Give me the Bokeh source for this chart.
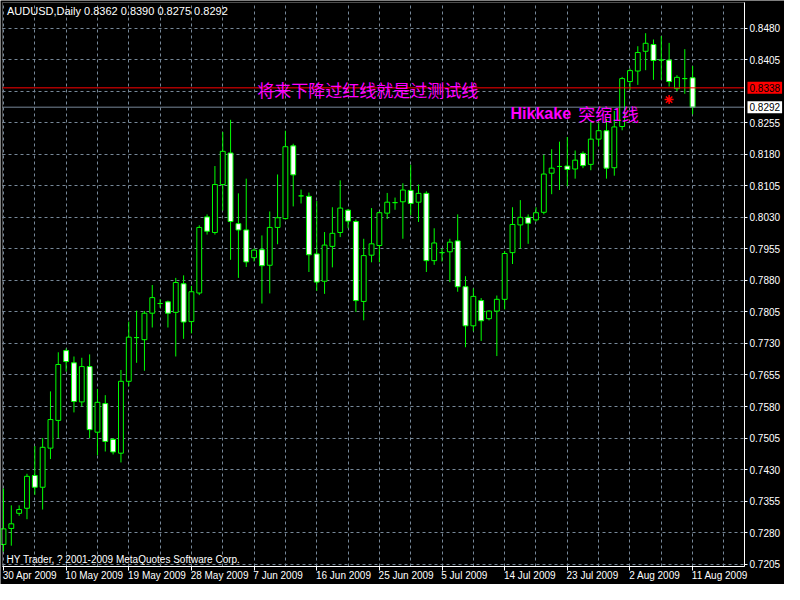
from bokeh.plotting import figure
from bokeh.models import FixedTicker, PrintfTickFormatter, Label, CustomJSTickFormatter, BoxAnnotation
from bokeh.embed import file_html
from bokeh.resources import INLINE

# ---------------- data ----------------
opens = [0.7252, 0.7290, 0.7326, 0.7338, 0.7416, 0.7388, 0.7481, 0.7547, 0.7713, 0.7684,
         0.7591, 0.7675, 0.7519, 0.7587, 0.7502, 0.7469, 0.7640, 0.7744, 0.7739, 0.7802,
         0.7825, 0.7829, 0.7804, 0.7872, 0.7782, 0.7850, 0.8031, 0.7994, 0.8108, 0.8183,
         0.8015, 0.8000, 0.7934, 0.7953, 0.7916, 0.8006, 0.8027, 0.8200, 0.8081, 0.8080,
         0.7943, 0.7878, 0.7961, 0.7994, 0.8047, 0.8020, 0.7830, 0.7940, 0.7963, 0.8040,
         0.8065, 0.8067, 0.8094, 0.8066, 0.8087, 0.7927, 0.7946, 0.7948, 0.7974, 0.7865,
         0.7772, 0.7832, 0.7789, 0.7807, 0.7835, 0.7946, 0.8012, 0.8030, 0.8024, 0.8042,
         0.8135, 0.8151, 0.8152, 0.8145, 0.8182, 0.8156, 0.8216, 0.8236, 0.8148, 0.8246,
         0.8353, 0.8378, 0.8425, 0.8441, 0.8404, 0.8404, 0.8336, 0.8360, 0.8362]
highs = [0.7385, 0.7345, 0.7345, 0.7420, 0.7486, 0.7505, 0.7616, 0.7709, 0.7718, 0.7699,
         0.7696, 0.7704, 0.7622, 0.7607, 0.7505, 0.7667, 0.7782, 0.7808, 0.7807, 0.7869,
         0.7835, 0.7832, 0.7886, 0.7892, 0.7867, 0.8011, 0.8037, 0.8152, 0.8233, 0.8262,
         0.8087, 0.8122, 0.7956, 0.7987, 0.8044, 0.8132, 0.8236, 0.8205, 0.8096, 0.8089,
         0.8069, 0.7995, 0.8054, 0.8118, 0.8050, 0.8025, 0.7979, 0.8052, 0.8044, 0.8088,
         0.8077, 0.8111, 0.8155, 0.8108, 0.8092, 0.8004, 0.7956, 0.7979, 0.8037, 0.7890,
         0.7861, 0.7838, 0.7809, 0.7844, 0.7950, 0.8054, 0.8071, 0.8037, 0.8054, 0.8179,
         0.8192, 0.8210, 0.8221, 0.8189, 0.8187, 0.8256, 0.8254, 0.8264, 0.8283, 0.8364,
         0.8384, 0.8437, 0.8468, 0.8453, 0.8461, 0.8445, 0.8368, 0.8430, 0.8390]
lows = [0.7235, 0.7249, 0.7320, 0.7312, 0.7370, 0.7335, 0.7455, 0.7505, 0.7663, 0.7566,
        0.7580, 0.7505, 0.7464, 0.7473, 0.7466, 0.7447, 0.7628, 0.7684, 0.7665, 0.7768,
        0.7815, 0.7768, 0.7699, 0.7741, 0.7754, 0.7845, 0.7989, 0.7989, 0.8046, 0.7929,
        0.7886, 0.7912, 0.7925, 0.7825, 0.7849, 0.7966, 0.8025, 0.8056, 0.8063, 0.7900,
        0.7855, 0.7848, 0.7911, 0.7983, 0.8004, 0.7805, 0.7785, 0.7923, 0.7923, 0.8026,
        0.8048, 0.7979, 0.8035, 0.8019, 0.7900, 0.7917, 0.7925, 0.7876, 0.7853, 0.7721,
        0.7759, 0.7736, 0.7785, 0.7700, 0.7811, 0.7919, 0.7956, 0.7967, 0.8020, 0.8037,
        0.8085, 0.8095, 0.8104, 0.8122, 0.8147, 0.8142, 0.8199, 0.8122, 0.8129, 0.8237,
        0.8333, 0.8345, 0.8380, 0.8357, 0.8357, 0.8341, 0.8330, 0.8324, 0.8275]
closes = [0.7289, 0.7301, 0.7335, 0.7414, 0.7388, 0.7483, 0.7549, 0.7680, 0.7687, 0.7592,
          0.7675, 0.7525, 0.7590, 0.7497, 0.7472, 0.7640, 0.7745, 0.7744, 0.7802, 0.7839,
          0.7825, 0.7802, 0.7875, 0.7781, 0.7853, 0.8006, 0.7997, 0.8108, 0.8187, 0.8020,
          0.8000, 0.7924, 0.7952, 0.7915, 0.8006, 0.8029, 0.8198, 0.8131, 0.8081, 0.7941,
          0.7876, 0.7964, 0.7992, 0.8052, 0.8021, 0.7832, 0.7939, 0.7967, 0.8041, 0.8066,
          0.8065, 0.8095, 0.8063, 0.8087, 0.7927, 0.7969, 0.7946, 0.7971, 0.7865, 0.7772,
          0.7842, 0.7784, 0.7807, 0.7835, 0.7944, 0.8013, 0.8030, 0.8016, 0.8041, 0.8133,
          0.8147, 0.8151, 0.8144, 0.8166, 0.8153, 0.8216, 0.8236, 0.8147, 0.8245, 0.8360,
          0.8379, 0.8422, 0.8444, 0.8403, 0.8404, 0.8353, 0.8363, 0.8360, 0.8292]

date_label_idx = [0, 8, 16, 24, 32, 40, 48, 56, 64, 72, 80, 88]
date_labels = ["30 Apr 2009", "10 May 2009", "19 May 2009", "28 May 2009", "7 Jun 2009",
               "16 Jun 2009", "25 Jun 2009", "5 Jul 2009", "14 Jul 2009", "23 Jul 2009",
               "2 Aug 2009", "11 Aug 2009"]
price_ticks = [0.7205, 0.7280, 0.7355, 0.7430, 0.7505, 0.7580, 0.7655, 0.7730, 0.7805,
               0.7880, 0.7955, 0.8030, 0.8105, 0.8180, 0.8255, 0.8330, 0.8405, 0.8480]
hidden_tick = 0.8330          # covered by the red price box
red_line_price = [0.8338]
bid_price = [0.8292]
signal_idx = [85]
signal_price = [0.8310]
title_text = "AUDUSD,Daily  0.8362 0.8390 0.8275 0.8292"
copyright_text = "HY Trader, ? 2001-2009 MetaQuotes Software Corp."
note_text = "将来下降过红线就是过测试线"
hikkake_text = "Hikkake"
hikkake_cn = "突缩1线"

# ---------------- derived ----------------
bar_idx = list(range(len(opens)))
body_top = [max(o, c) for o, c in zip(opens, closes)]
body_bot = [min(o, c) for o, c in zip(opens, closes)]
body_fill = ["black" if c >= o else "white" for o, c in zip(opens, closes)]
grid_idx = list(range(0, 96, 4))

GREEN = "#00FF00"
GRID = "#778899"
FONT = "Liberation Sans"

W, H = 784, 584
# chart area (inside the white frame) in data units
xl, xr = -0.125, 94.625
yb, yt = 0.71995, 0.8541
ppx = 742 / (xr - xl)        # pixels per bar
ppy = 564 / (yt - yb)        # pixels per price unit
# the plotting frame fills the whole canvas; axes are fixed at the chart edges
x_range = (xl - 2 / ppx, xr + 40 / ppx)
y_range = (yb - 18 / ppy, yt + 2 / ppy)

p = figure(width=W, height=H, x_range=x_range, y_range=y_range,
           y_axis_location="right", output_backend="svg", toolbar_location=None,
           min_border_left=0, min_border_right=0, min_border_top=0, min_border_bottom=0,
           background_fill_color="black", border_fill_color="black")
p.outline_line_color = None

# grids (dashed slate grey), limited to the chart area
p.xgrid.ticker = FixedTicker(ticks=grid_idx)
p.ygrid.ticker = FixedTicker(ticks=price_ticks)
for g in (p.xgrid, p.ygrid):
    g.grid_line_color = GRID
    g.grid_line_dash = "3 3"
    g.grid_line_width = 1
try:
    p.xgrid.cross_bounds = (yb, yt)
    p.ygrid.cross_bounds = (xl, xr)
except Exception:
    p.add_layout(BoxAnnotation(left=xr, fill_color="black", fill_alpha=1,
                               line_color=None, level="underlay"))
    p.add_layout(BoxAnnotation(top=yb, fill_color="black", fill_alpha=1,
                               line_color=None, level="underlay"))

# right price axis, fixed on the right edge of the chart
yax = p.yaxis[0]
yax.fixed_location = xr
yax.bounds = (yb, yt)
yax.ticker = FixedTicker(ticks=[t for t in price_ticks if t != hidden_tick])
yax.formatter = PrintfTickFormatter(format="%.4f")
yax.major_label_text_color = "white"
yax.major_label_text_font = FONT
yax.major_label_text_font_size = "10px"
yax.major_label_standoff = 2
yax.axis_line_color = "white"
yax.major_tick_line_color = "white"
yax.major_tick_out = 3
yax.major_tick_in = 0
yax.minor_tick_line_color = None

# bottom date axis, fixed on the bottom edge of the chart (ticks only)
xax = p.xaxis[0]
xax.fixed_location = yb
xax.bounds = (xl, xr)
xax.ticker = FixedTicker(ticks=date_label_idx)
xax.formatter = CustomJSTickFormatter(code="return ''")
xax.axis_line_color = "white"
xax.major_tick_line_color = "white"
xax.major_tick_out = 4
xax.major_tick_in = 0
xax.minor_tick_line_color = None

# left-aligned date labels under the ticks (MetaTrader style)
for i, lab in zip(date_label_idx, date_labels):
    p.add_layout(Label(x=i - 0.1, y=yb - 3 / ppy, text=lab, text_color="white",
                       text_font=FONT, text_font_size="10px",
                       text_align="left", text_baseline="top"))

# candles
p.segment(x0=bar_idx, y0=lows, x1=bar_idx, y1=highs, line_color=GREEN, line_width=1)
p.vbar(x=bar_idx, width=0.62, top=body_top, bottom=body_bot,
       fill_color=body_fill, line_color=GREEN, line_width=1)

# price lines across the chart area
p.segment(x0=[xl], x1=[xr], y0=red_line_price, y1=red_line_price,
          line_color="red", line_width=1)
p.segment(x0=[xl], x1=[xr], y0=bid_price, y1=bid_price,
          line_color=GRID, line_width=1)

# signal mark
p.scatter(x=signal_idx, y=signal_price, marker="asterisk", size=9,
          line_color="red", line_width=1.5)

# white chart frame
p.add_layout(BoxAnnotation(left=xl, right=xr, bottom=yb, top=yt, fill_color=None,
                           line_color="white", line_width=1))

# texts
p.add_layout(Label(x=0.45, y=yt - 2 / ppy, text=title_text, text_color="white",
                   text_font=FONT, text_font_size="11px", text_baseline="top"))
p.add_layout(Label(x=0.4, y=yb + 1.5 / ppy, text=copyright_text, text_color="white",
                   text_font=FONT, text_font_size="10px", text_baseline="bottom"))
p.add_layout(Label(x=32.4, y=0.8335, text=note_text, text_color="#FF00FF",
                   text_font="Noto Sans CJK SC", text_font_size="17px", text_baseline="middle"))
p.add_layout(Label(x=64.75, y=0.8277, text=hikkake_text, text_color="#FF00FF",
                   text_font=FONT, text_font_style="bold",
                   text_font_size="16px", text_baseline="middle"))
p.add_layout(Label(x=73.4, y=0.8277, text=hikkake_cn, text_color="#FF00FF",
                   text_font="Noto Sans CJK SC", text_font_size="17px", text_baseline="middle"))

# price boxes on the axis
p.add_layout(Label(x=xr + 3 / ppx, y=red_line_price[0], text="%.4f" % red_line_price[0],
                   text_color="black", background_fill_color="red",
                   text_font=FONT, text_font_size="10px",
                   text_align="left", text_baseline="middle", padding=2))
p.add_layout(Label(x=xr + 3 / ppx, y=bid_price[0], text="%.4f" % bid_price[0],
                   text_color="black", background_fill_color="white",
                   text_font=FONT, text_font_size="10px",
                   text_align="left", text_baseline="middle", padding=2))

open("out.html", "w").write(file_html(p, INLINE))
